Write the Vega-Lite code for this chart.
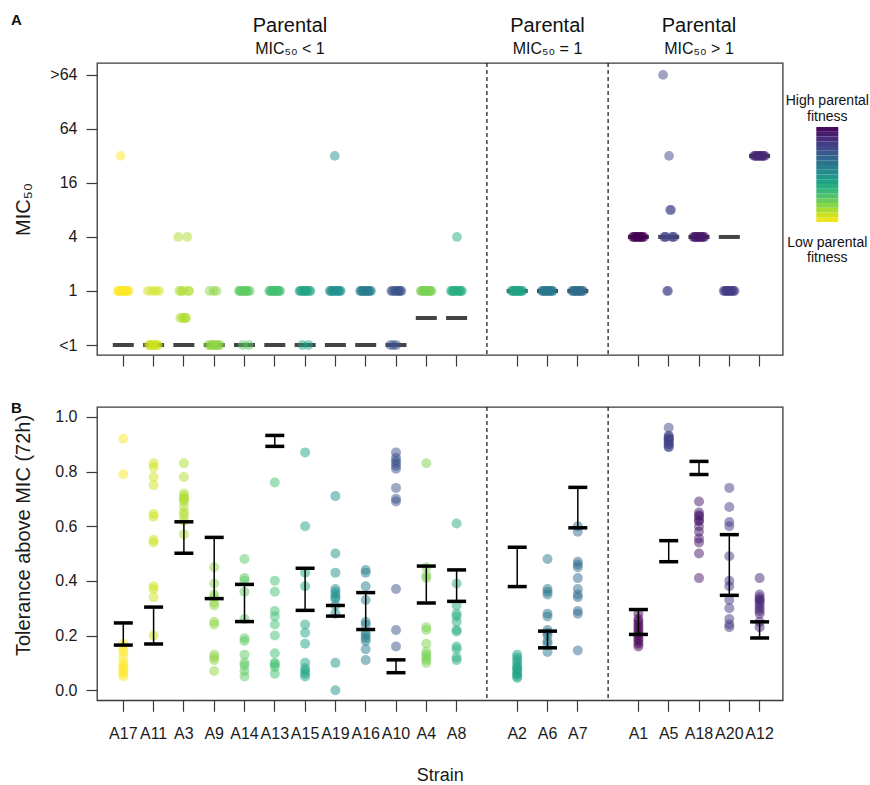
{
"$schema": "https://vega.github.io/schema/vega-lite/v6.json",
"padding": {"left": 10, "top": 12, "right": 0, "bottom": 0},
"autosize": {"type": "pad"},
"config": {
  "font": "Liberation Sans",
  "view": {"stroke": "#3a3a3a", "strokeWidth": 1.3},
  "axis": {"grid": false, "domain": false, "ticks": true, "tickColor": "#3a3a3a", "tickWidth": 1.2, "tickSize": 11, "labelFontSize": 16, "labelColor": "#1a1a1a", "labelPadding": 9, "titleFontSize": 20, "titleFontWeight": "normal", "titleColor": "#1a1a1a"},
  "title": {"color": "#111"}
},
"datasets": {
"gaps": [{"strain": "gap1"}, {"strain": "gap2"}],
"strains": [
{"strain":"A17","fit":0.0,"pmic":0,"plo":0.165,"phi":0.246},
{"strain":"A11","fit":0.07,"pmic":0,"plo":0.169,"phi":0.304},
{"strain":"A3","fit":0.12,"pmic":0,"plo":0.501,"phi":0.616},
{"strain":"A9","fit":0.17,"pmic":0,"plo":0.335,"phi":0.559},
{"strain":"A14","fit":0.25,"pmic":0,"plo":0.251,"phi":0.387},
{"strain":"A13","fit":0.30,"pmic":0,"plo":0.892,"phi":0.932},
{"strain":"A15","fit":0.42,"pmic":0,"plo":0.292,"phi":0.446},
{"strain":"A19","fit":0.50,"pmic":0,"plo":0.271,"phi":0.310},
{"strain":"A16","fit":0.58,"pmic":0,"plo":0.222,"phi":0.357},
{"strain":"A10","fit":0.75,"pmic":0,"plo":0.064,"phi":0.111},
{"strain":"A4","fit":0.20,"pmic":0.5,"plo":0.319,"phi":0.454},
{"strain":"A8","fit":0.38,"pmic":0.5,"plo":0.325,"phi":0.440},
{"strain":"A2","fit":0.42,"pmic":1,"plo":0.379,"phi":0.523},
{"strain":"A6","fit":0.60,"pmic":1,"plo":0.155,"phi":0.216},
{"strain":"A7","fit":0.65,"pmic":1,"plo":0.594,"phi":0.742},
{"strain":"A1","fit":1.0,"pmic":2,"plo":0.204,"phi":0.295},
{"strain":"A5","fit":0.80,"pmic":2,"plo":0.470,"phi":0.547},
{"strain":"A18","fit":0.94,"pmic":2,"plo":0.789,"phi":0.837},
{"strain":"A20","fit":0.83,"pmic":2,"plo":0.347,"phi":0.569},
{"strain":"A12","fit":0.90,"pmic":3.5,"plo":0.191,"phi":0.250}
],
"bar": [
{"lo":0.00,"hi":0.05,"mid":0.025},{"lo":0.05,"hi":0.10,"mid":0.075},{"lo":0.10,"hi":0.15,"mid":0.125},{"lo":0.15,"hi":0.20,"mid":0.175},
{"lo":0.20,"hi":0.25,"mid":0.225},{"lo":0.25,"hi":0.30,"mid":0.275},{"lo":0.30,"hi":0.35,"mid":0.325},{"lo":0.35,"hi":0.40,"mid":0.375},
{"lo":0.40,"hi":0.45,"mid":0.425},{"lo":0.45,"hi":0.50,"mid":0.475},{"lo":0.50,"hi":0.55,"mid":0.525},{"lo":0.55,"hi":0.60,"mid":0.575},
{"lo":0.60,"hi":0.65,"mid":0.625},{"lo":0.65,"hi":0.70,"mid":0.675},{"lo":0.70,"hi":0.75,"mid":0.725},{"lo":0.75,"hi":0.80,"mid":0.775},
{"lo":0.80,"hi":0.85,"mid":0.825},{"lo":0.85,"hi":0.90,"mid":0.875},{"lo":0.90,"hi":0.95,"mid":0.925},{"lo":0.95,"hi":1.00,"mid":0.975}
],
"reps": [
{"strain":"A17","rep":1,"mic":1,"tol":0.92},{"strain":"A17","rep":2,"mic":1,"tol":0.79},{"strain":"A17","rep":3,"mic":1,"tol":0.17},{"strain":"A17","rep":4,"mic":3.5,"tol":0.15},{"strain":"A17","rep":5,"mic":1,"tol":0.14},{"strain":"A17","rep":6,"mic":1,"tol":0.12},{"strain":"A17","rep":7,"mic":1,"tol":0.10},{"strain":"A17","rep":8,"mic":1,"tol":0.09},{"strain":"A17","rep":9,"mic":1,"tol":0.08},{"strain":"A17","rep":10,"mic":1,"tol":0.07},{"strain":"A17","rep":11,"mic":1,"tol":0.06},{"strain":"A17","rep":12,"mic":1,"tol":0.05},
{"strain":"A11","rep":1,"mic":1,"tol":0.83},{"strain":"A11","rep":2,"mic":0,"tol":0.815},{"strain":"A11","rep":3,"mic":0,"tol":0.78},{"strain":"A11","rep":4,"mic":0,"tol":0.75},{"strain":"A11","rep":5,"mic":1,"tol":0.645},{"strain":"A11","rep":6,"mic":0,"tol":0.635},{"strain":"A11","rep":7,"mic":0,"tol":0.55},{"strain":"A11","rep":8,"mic":0,"tol":0.54},{"strain":"A11","rep":9,"mic":1,"tol":0.38},{"strain":"A11","rep":10,"mic":0,"tol":0.37},{"strain":"A11","rep":11,"mic":0,"tol":0.34},{"strain":"A11","rep":12,"mic":1,"tol":0.20},
{"strain":"A3","rep":1,"mic":2,"tol":0.83},{"strain":"A3","rep":2,"mic":1,"tol":0.78},{"strain":"A3","rep":3,"mic":0.5,"tol":0.72},{"strain":"A3","rep":4,"mic":1,"tol":0.71},{"strain":"A3","rep":5,"mic":0.5,"tol":0.70},{"strain":"A3","rep":6,"mic":1,"tol":0.69},{"strain":"A3","rep":7,"mic":0.5,"tol":0.67},{"strain":"A3","rep":8,"mic":0.5,"tol":0.65},{"strain":"A3","rep":9,"mic":0.5,"tol":0.64},{"strain":"A3","rep":10,"mic":2,"tol":0.62},{"strain":"A3","rep":11,"mic":1,"tol":0.57},{"strain":"A3","rep":12,"mic":1,"tol":0.70},
{"strain":"A9","rep":1,"mic":0,"tol":0.45},{"strain":"A9","rep":2,"mic":1,"tol":0.39},{"strain":"A9","rep":3,"mic":0,"tol":0.35},{"strain":"A9","rep":4,"mic":0,"tol":0.32},{"strain":"A9","rep":5,"mic":0,"tol":0.31},{"strain":"A9","rep":6,"mic":1,"tol":0.25},{"strain":"A9","rep":7,"mic":0,"tol":0.24},{"strain":"A9","rep":8,"mic":0,"tol":0.13},{"strain":"A9","rep":9,"mic":1,"tol":0.11},{"strain":"A9","rep":10,"mic":0,"tol":0.07},{"strain":"A9","rep":11,"mic":0,"tol":0.34},{"strain":"A9","rep":12,"mic":0,"tol":0.12},
{"strain":"A14","rep":1,"mic":1,"tol":0.48},{"strain":"A14","rep":2,"mic":1,"tol":0.41},{"strain":"A14","rep":3,"mic":1,"tol":0.40},{"strain":"A14","rep":4,"mic":1,"tol":0.36},{"strain":"A14","rep":5,"mic":0,"tol":0.26},{"strain":"A14","rep":6,"mic":1,"tol":0.19},{"strain":"A14","rep":7,"mic":1,"tol":0.18},{"strain":"A14","rep":8,"mic":1,"tol":0.13},{"strain":"A14","rep":9,"mic":1,"tol":0.10},{"strain":"A14","rep":10,"mic":1,"tol":0.09},{"strain":"A14","rep":11,"mic":0,"tol":0.07},{"strain":"A14","rep":12,"mic":1,"tol":0.05},
{"strain":"A13","rep":1,"mic":1,"tol":0.76},{"strain":"A13","rep":2,"mic":1,"tol":0.40},{"strain":"A13","rep":3,"mic":1,"tol":0.36},{"strain":"A13","rep":4,"mic":1,"tol":0.29},{"strain":"A13","rep":5,"mic":1,"tol":0.27},{"strain":"A13","rep":6,"mic":1,"tol":0.24},{"strain":"A13","rep":7,"mic":1,"tol":0.20},{"strain":"A13","rep":8,"mic":1,"tol":0.135},{"strain":"A13","rep":9,"mic":1,"tol":0.095},{"strain":"A13","rep":10,"mic":1,"tol":0.085},{"strain":"A13","rep":11,"mic":1,"tol":0.06},{"strain":"A13","rep":12,"mic":1,"tol":0.10},
{"strain":"A15","rep":1,"mic":1,"tol":0.87},{"strain":"A15","rep":2,"mic":1,"tol":0.60},{"strain":"A15","rep":3,"mic":1,"tol":0.43},{"strain":"A15","rep":4,"mic":0,"tol":0.38},{"strain":"A15","rep":5,"mic":1,"tol":0.24},{"strain":"A15","rep":6,"mic":1,"tol":0.21},{"strain":"A15","rep":7,"mic":1,"tol":0.17},{"strain":"A15","rep":8,"mic":1,"tol":0.10},{"strain":"A15","rep":9,"mic":1,"tol":0.08},{"strain":"A15","rep":10,"mic":0,"tol":0.06},{"strain":"A15","rep":11,"mic":1,"tol":0.05},{"strain":"A15","rep":12,"mic":1,"tol":0.07},
{"strain":"A19","rep":1,"mic":1,"tol":0.50},{"strain":"A19","rep":2,"mic":1,"tol":0.43},{"strain":"A19","rep":3,"mic":1,"tol":0.37},{"strain":"A19","rep":4,"mic":1,"tol":0.36},{"strain":"A19","rep":5,"mic":1,"tol":0.35},{"strain":"A19","rep":6,"mic":3.5,"tol":0.71},{"strain":"A19","rep":7,"mic":1,"tol":0.335},{"strain":"A19","rep":8,"mic":1,"tol":0.31},{"strain":"A19","rep":9,"mic":1,"tol":0.28},{"strain":"A19","rep":10,"mic":1,"tol":0.10},{"strain":"A19","rep":11,"mic":1,"tol":0.00},{"strain":"A19","rep":12,"mic":1,"tol":0.34},
{"strain":"A16","rep":1,"mic":1,"tol":0.44},{"strain":"A16","rep":2,"mic":1,"tol":0.43},{"strain":"A16","rep":3,"mic":1,"tol":0.38},{"strain":"A16","rep":4,"mic":1,"tol":0.33},{"strain":"A16","rep":5,"mic":1,"tol":0.25},{"strain":"A16","rep":6,"mic":1,"tol":0.24},{"strain":"A16","rep":7,"mic":1,"tol":0.21},{"strain":"A16","rep":8,"mic":1,"tol":0.19},{"strain":"A16","rep":9,"mic":1,"tol":0.18},{"strain":"A16","rep":10,"mic":1,"tol":0.15},{"strain":"A16","rep":11,"mic":1,"tol":0.11},{"strain":"A16","rep":12,"mic":1,"tol":0.20},
{"strain":"A10","rep":1,"mic":0,"tol":0.87},{"strain":"A10","rep":2,"mic":1,"tol":0.85},{"strain":"A10","rep":3,"mic":1,"tol":0.84},{"strain":"A10","rep":4,"mic":0,"tol":0.83},{"strain":"A10","rep":5,"mic":1,"tol":0.81},{"strain":"A10","rep":6,"mic":1,"tol":0.74},{"strain":"A10","rep":7,"mic":0,"tol":0.70},{"strain":"A10","rep":8,"mic":1,"tol":0.69},{"strain":"A10","rep":9,"mic":1,"tol":0.37},{"strain":"A10","rep":10,"mic":1,"tol":0.22},{"strain":"A10","rep":11,"mic":1,"tol":0.16},{"strain":"A10","rep":12,"mic":1,"tol":0.82},
{"strain":"A4","rep":1,"mic":1,"tol":0.83},{"strain":"A4","rep":2,"mic":1,"tol":0.45},{"strain":"A4","rep":3,"mic":1,"tol":0.41},{"strain":"A4","rep":4,"mic":1,"tol":0.23},{"strain":"A4","rep":5,"mic":1,"tol":0.22},{"strain":"A4","rep":6,"mic":1,"tol":0.17},{"strain":"A4","rep":7,"mic":1,"tol":0.14},{"strain":"A4","rep":8,"mic":1,"tol":0.13},{"strain":"A4","rep":9,"mic":1,"tol":0.11},{"strain":"A4","rep":10,"mic":1,"tol":0.10},{"strain":"A4","rep":11,"mic":1,"tol":0.12},{"strain":"A4","rep":12,"mic":1,"tol":0.42},
{"strain":"A8","rep":1,"mic":1,"tol":0.39},{"strain":"A8","rep":2,"mic":1,"tol":0.31},{"strain":"A8","rep":3,"mic":1,"tol":0.28},{"strain":"A8","rep":4,"mic":1,"tol":0.27},{"strain":"A8","rep":5,"mic":1,"tol":0.22},{"strain":"A8","rep":6,"mic":1,"tol":0.215},{"strain":"A8","rep":7,"mic":2,"tol":0.61},{"strain":"A8","rep":8,"mic":1,"tol":0.16},{"strain":"A8","rep":9,"mic":1,"tol":0.15},{"strain":"A8","rep":10,"mic":1,"tol":0.11},{"strain":"A8","rep":11,"mic":1,"tol":0.12},{"strain":"A8","rep":12,"mic":1,"tol":0.25},
{"strain":"A2","rep":1,"mic":1,"tol":0.13},{"strain":"A2","rep":2,"mic":1,"tol":0.12},{"strain":"A2","rep":3,"mic":1,"tol":0.10},{"strain":"A2","rep":4,"mic":1,"tol":0.09},{"strain":"A2","rep":5,"mic":1,"tol":0.08},{"strain":"A2","rep":6,"mic":1,"tol":0.07},{"strain":"A2","rep":7,"mic":1,"tol":0.06},{"strain":"A2","rep":8,"mic":1,"tol":0.05},{"strain":"A2","rep":9,"mic":1,"tol":0.045},{"strain":"A2","rep":10,"mic":1,"tol":0.08},{"strain":"A2","rep":11,"mic":1,"tol":0.11},{"strain":"A2","rep":12,"mic":1,"tol":0.06},
{"strain":"A6","rep":1,"mic":1,"tol":0.48},{"strain":"A6","rep":2,"mic":1,"tol":0.37},{"strain":"A6","rep":3,"mic":1,"tol":0.35},{"strain":"A6","rep":4,"mic":1,"tol":0.28},{"strain":"A6","rep":5,"mic":1,"tol":0.27},{"strain":"A6","rep":6,"mic":1,"tol":0.22},{"strain":"A6","rep":7,"mic":1,"tol":0.20},{"strain":"A6","rep":8,"mic":1,"tol":0.18},{"strain":"A6","rep":9,"mic":1,"tol":0.17},{"strain":"A6","rep":10,"mic":1,"tol":0.14},{"strain":"A6","rep":11,"mic":1,"tol":0.36},{"strain":"A6","rep":12,"mic":1,"tol":0.21},
{"strain":"A7","rep":1,"mic":1,"tol":0.60},{"strain":"A7","rep":2,"mic":1,"tol":0.58},{"strain":"A7","rep":3,"mic":1,"tol":0.47},{"strain":"A7","rep":4,"mic":1,"tol":0.46},{"strain":"A7","rep":5,"mic":1,"tol":0.41},{"strain":"A7","rep":6,"mic":1,"tol":0.37},{"strain":"A7","rep":7,"mic":1,"tol":0.35},{"strain":"A7","rep":8,"mic":1,"tol":0.34},{"strain":"A7","rep":9,"mic":1,"tol":0.29},{"strain":"A7","rep":10,"mic":1,"tol":0.28},{"strain":"A7","rep":11,"mic":1,"tol":0.145},{"strain":"A7","rep":12,"mic":1,"tol":0.45},
{"strain":"A1","rep":1,"mic":2,"tol":0.28},{"strain":"A1","rep":2,"mic":2,"tol":0.26},{"strain":"A1","rep":3,"mic":2,"tol":0.25},{"strain":"A1","rep":4,"mic":2,"tol":0.23},{"strain":"A1","rep":5,"mic":2,"tol":0.21},{"strain":"A1","rep":6,"mic":2,"tol":0.20},{"strain":"A1","rep":7,"mic":2,"tol":0.19},{"strain":"A1","rep":8,"mic":2,"tol":0.17},{"strain":"A1","rep":9,"mic":2,"tol":0.16},{"strain":"A1","rep":10,"mic":2,"tol":0.22},{"strain":"A1","rep":11,"mic":2,"tol":0.24},{"strain":"A1","rep":12,"mic":2,"tol":0.18},
{"strain":"A5","rep":1,"mic":5,"tol":0.96},{"strain":"A5","rep":2,"mic":2,"tol":0.93},{"strain":"A5","rep":3,"mic":2,"tol":0.92},{"strain":"A5","rep":4,"mic":2,"tol":0.91},{"strain":"A5","rep":5,"mic":1,"tol":0.90},{"strain":"A5","rep":6,"mic":1,"tol":0.89},{"strain":"A5","rep":7,"mic":3.5,"tol":0.92},{"strain":"A5","rep":8,"mic":2.5,"tol":0.93},{"strain":"A5","rep":9,"mic":2.5,"tol":0.91},{"strain":"A5","rep":10,"mic":2,"tol":0.90},{"strain":"A5","rep":11,"mic":2,"tol":0.89},{"strain":"A5","rep":12,"mic":2,"tol":0.92},
{"strain":"A18","rep":1,"mic":2,"tol":0.69},{"strain":"A18","rep":2,"mic":2,"tol":0.65},{"strain":"A18","rep":3,"mic":2,"tol":0.635},{"strain":"A18","rep":4,"mic":2,"tol":0.62},{"strain":"A18","rep":5,"mic":2,"tol":0.60},{"strain":"A18","rep":6,"mic":2,"tol":0.555},{"strain":"A18","rep":7,"mic":2,"tol":0.54},{"strain":"A18","rep":8,"mic":2,"tol":0.50},{"strain":"A18","rep":9,"mic":2,"tol":0.41},{"strain":"A18","rep":10,"mic":2,"tol":0.62},{"strain":"A18","rep":11,"mic":2,"tol":0.58},{"strain":"A18","rep":12,"mic":2,"tol":0.64},
{"strain":"A20","rep":1,"mic":1,"tol":0.74},{"strain":"A20","rep":2,"mic":1,"tol":0.67},{"strain":"A20","rep":3,"mic":1,"tol":0.615},{"strain":"A20","rep":4,"mic":1,"tol":0.60},{"strain":"A20","rep":5,"mic":1,"tol":0.49},{"strain":"A20","rep":6,"mic":1,"tol":0.40},{"strain":"A20","rep":7,"mic":1,"tol":0.38},{"strain":"A20","rep":8,"mic":1,"tol":0.33},{"strain":"A20","rep":9,"mic":1,"tol":0.30},{"strain":"A20","rep":10,"mic":1,"tol":0.26},{"strain":"A20","rep":11,"mic":1,"tol":0.23},{"strain":"A20","rep":12,"mic":1,"tol":0.24},
{"strain":"A12","rep":1,"mic":3.5,"tol":0.41},{"strain":"A12","rep":2,"mic":3.5,"tol":0.35},{"strain":"A12","rep":3,"mic":3.5,"tol":0.34},{"strain":"A12","rep":4,"mic":3.5,"tol":0.33},{"strain":"A12","rep":5,"mic":3.5,"tol":0.32},{"strain":"A12","rep":6,"mic":3.5,"tol":0.30},{"strain":"A12","rep":7,"mic":3.5,"tol":0.28},{"strain":"A12","rep":8,"mic":3.5,"tol":0.25},{"strain":"A12","rep":9,"mic":3.5,"tol":0.23},{"strain":"A12","rep":10,"mic":3.5,"tol":0.31},{"strain":"A12","rep":11,"mic":3.5,"tol":0.29},{"strain":"A12","rep":12,"mic":3.5,"tol":0.33}
]
},
"spacing": 32,
"vconcat": [
{
 "bounds": "flush",
 "spacing": 33.3,
 "hconcat": [
 {
  "width": 685.7, "height": 292,
  "title": {"text": "A", "anchor": "start", "frame": "bounds", "fontSize": 15, "fontWeight": "bold", "offset": -12, "dx": -2},
  "layer": [
   {"data": {"name": "gaps"}, "mark": {"type": "rule", "strokeDash": [4, 3], "color": "#111", "strokeWidth": 1.2},
    "encoding": {"x": {"field": "strain", "type": "nominal",
      "scale": {"type": "band", "domain": ["A17","A11","A3","A9","A14","A13","A15","A19","A16","A10","A4","A8","gap1","A2","A6","A7","gap2","A1","A5","A18","A20","A12"], "paddingInner": 0, "paddingOuter": 0.315, "align": 0.584},
      "axis": {"values": ["A17","A11","A3","A9","A14","A13","A15","A19","A16","A10","A4","A8","A2","A6","A7","A1","A5","A18","A20","A12"], "labels": false, "title": null}}}},
   {"data": {"name": "strains"}, "mark": {"type": "tick", "color": "#444444", "opacity": 1, "thickness": 4, "size": 21},
    "encoding": {"x": {"field": "strain", "type": "nominal"},
     "y": {"field": "pmic", "type": "quantitative", "scale": {"domain": [-0.185, 5.22], "nice": false, "zero": false},
       "axis": {"values": [0, 1, 2, 3, 4, 5], "labelExpr": "['<1','1','4','16','64','>64'][datum.value]", "title": "MIC₅₀", "minExtent": 50, "maxExtent": 50, "titlePadding": 14}}}},
   {"data": {"name": "reps"},
    "transform": [{"lookup": "strain", "from": {"data": {"name": "strains"}, "key": "strain", "fields": ["fit"]}}],
    "mark": {"type": "circle", "size": 95, "opacity": 0.5},
    "encoding": {"x": {"field": "strain", "type": "nominal"},
     "xOffset": {"field": "rep", "type": "nominal", "scale": {"range": [9, 21]}},
     "y": {"field": "mic", "type": "quantitative"},
     "color": {"field": "fit", "type": "quantitative", "scale": {"domain": [0, 1], "scheme": "viridis", "reverse": true}, "legend": null}}},
   {"data": {"values": [{"strain": "A13", "head": "Parental", "sub": "MIC₅₀ < 1"}]},
    "mark": {"type": "text", "fontSize": 20, "baseline": "alphabetic", "color": "#111"},
    "encoding": {"x": {"field": "strain", "type": "nominal", "bandPosition": 1}, "y": {"datum": 5.8}, "text": {"field": "head"}}},
   {"data": {"values": [{"strain": "A13", "head": "Parental", "sub": "MIC₅₀ < 1"}]},
    "mark": {"type": "text", "fontSize": 16, "baseline": "alphabetic", "color": "#111"},
    "encoding": {"x": {"field": "strain", "type": "nominal", "bandPosition": 1}, "y": {"datum": 5.38}, "text": {"field": "sub"}}},
   {"data": {"values": [{"strain": "A6", "head": "Parental", "sub": "MIC₅₀ = 1"}, {"strain": "A18", "head": "Parental", "sub": "MIC₅₀ > 1"}]},
    "mark": {"type": "text", "fontSize": 20, "baseline": "alphabetic", "color": "#111"},
    "encoding": {"x": {"field": "strain", "type": "nominal"}, "y": {"datum": 5.8}, "text": {"field": "head"}}},
   {"data": {"values": [{"strain": "A6", "head": "Parental", "sub": "MIC₅₀ = 1"}, {"strain": "A18", "head": "Parental", "sub": "MIC₅₀ > 1"}]},
    "mark": {"type": "text", "fontSize": 16, "baseline": "alphabetic", "color": "#111"},
    "encoding": {"x": {"field": "strain", "type": "nominal"}, "y": {"datum": 5.38}, "text": {"field": "sub"}}}
  ]
 },
 {
  "width": 22, "height": 292,
  "view": {"stroke": null},
  "layer": [
   {"data": {"name": "bar"}, "mark": {"type": "rect"},
    "encoding": {"y": {"field": "lo", "type": "quantitative", "scale": {"domain": [-1.4, 1.674], "nice": false, "zero": false}, "axis": null},
     "y2": {"field": "hi"},
     "color": {"field": "mid", "type": "quantitative", "scale": {"domain": [0, 1], "scheme": "viridis", "reverse": true}, "legend": null}}},
   {"data": {"values": [{"label": "High parental\nfitness"}]},
    "mark": {"type": "text", "fontSize": 14, "lineBreak": "\n", "lineHeight": 15.5, "baseline": "alphabetic", "align": "center", "color": "#111"},
    "encoding": {"y": {"datum": 1.23}, "text": {"field": "label"}}},
   {"data": {"values": [{"label": "Low parental\nfitness"}]},
    "mark": {"type": "text", "fontSize": 14, "lineBreak": "\n", "lineHeight": 15.5, "baseline": "alphabetic", "align": "center", "color": "#111"},
    "encoding": {"y": {"datum": -0.263}, "text": {"field": "label"}}}
  ]
 }
 ]
},
{
 "width": 685.7, "height": 293.3,
 "title": {"text": "B", "anchor": "start", "frame": "bounds", "fontSize": 15, "fontWeight": "bold", "offset": -10, "dx": -2},
 "layer": [
  {"data": {"name": "gaps"}, "mark": {"type": "rule", "strokeDash": [4, 3], "color": "#111", "strokeWidth": 1.2},
   "encoding": {"x": {"field": "strain", "type": "nominal",
     "scale": {"type": "band", "domain": ["A17","A11","A3","A9","A14","A13","A15","A19","A16","A10","A4","A8","gap1","A2","A6","A7","gap2","A1","A5","A18","A20","A12"], "paddingInner": 0, "paddingOuter": 0.315, "align": 0.584},
     "axis": {"values": ["A17","A11","A3","A9","A14","A13","A15","A19","A16","A10","A4","A8","A2","A6","A7","A1","A5","A18","A20","A12"], "title": "Strain", "labelPadding": 14, "titlePadding": 25, "titleFontSize": 18, "labelAngle": 0}}}},
  {"data": {"name": "reps"},
   "transform": [{"lookup": "strain", "from": {"data": {"name": "strains"}, "key": "strain", "fields": ["fit"]}}],
   "mark": {"type": "circle", "size": 100, "opacity": 0.5},
   "encoding": {"x": {"field": "strain", "type": "nominal"},
    "y": {"field": "tol", "type": "quantitative", "scale": {"domain": [-0.037, 1.036], "nice": false, "zero": false},
      "axis": {"values": [0, 0.2, 0.4, 0.6, 0.8, 1.0], "format": ".1f", "title": "Tolerance above MIC (72h)", "minExtent": 50, "maxExtent": 50, "titlePadding": 14, "titleY": 128}},
    "color": {"field": "fit", "type": "quantitative", "scale": {"domain": [0, 1], "scheme": "viridis", "reverse": true}, "legend": null}}},
  {"data": {"name": "strains"}, "mark": {"type": "rule", "color": "#000", "strokeWidth": 1.5},
   "encoding": {"x": {"field": "strain", "type": "nominal"}, "y": {"field": "plo", "type": "quantitative"}, "y2": {"field": "phi"}}},
  {"data": {"name": "strains"}, "mark": {"type": "tick", "color": "#000", "opacity": 1, "thickness": 3.5, "size": 19},
   "encoding": {"x": {"field": "strain", "type": "nominal"}, "y": {"field": "plo", "type": "quantitative"}}},
  {"data": {"name": "strains"}, "mark": {"type": "tick", "color": "#000", "opacity": 1, "thickness": 3.5, "size": 19},
   "encoding": {"x": {"field": "strain", "type": "nominal"}, "y": {"field": "phi", "type": "quantitative"}}}
 ]
}
]
}
